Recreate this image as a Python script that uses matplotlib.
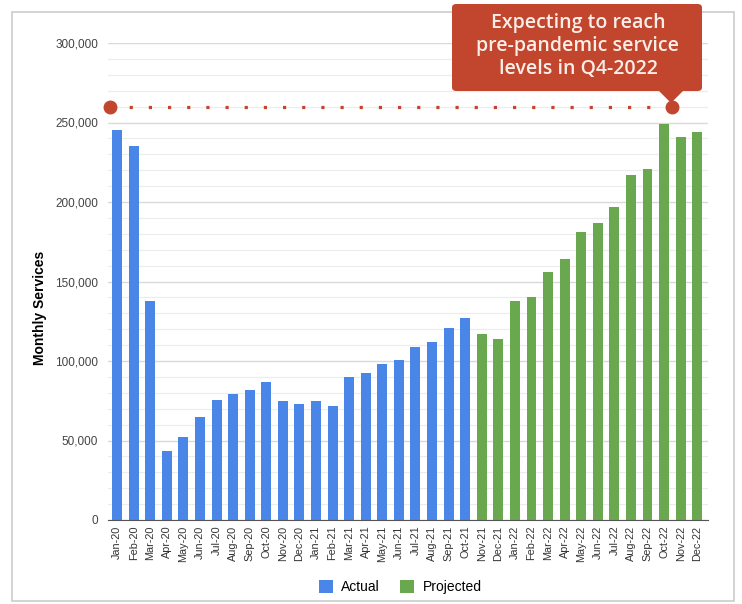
import numpy as np
import matplotlib.pyplot as plt
from matplotlib.patches import FancyBboxPatch, Polygon, Rectangle

plt.rcParams['font.family'] = ['Liberation Sans', 'DejaVu Sans']

# miesiace i wartosci
months = ['Jan-20', 'Feb-20', 'Mar-20', 'Apr-20', 'May-20', 'Jun-20', 'Jul-20', 'Aug-20',
          'Sep-20', 'Oct-20', 'Nov-20', 'Dec-20', 'Jan-21', 'Feb-21', 'Mar-21', 'Apr-21',
          'May-21', 'Jun-21', 'Jul-21', 'Aug-21', 'Sep-21', 'Oct-21', 'Nov-21', 'Dec-21',
          'Jan-22', 'Feb-22', 'Mar-22', 'Apr-22', 'May-22', 'Jun-22', 'Jul-22', 'Aug-22',
          'Sep-22', 'Oct-22', 'Nov-22', 'Dec-22']
actual = [245000, 235000, 137500, 43500, 52000, 65000, 75500, 79000, 82000, 87000,
          75000, 73000, 75000, 71500, 90000, 92500, 98000, 100500, 109000, 112000,
          121000, 127000]
projected = [117000, 114000, 138000, 140000, 156000, 164000, 181000, 187000, 197000,
             217000, 221000, 249000, 241000, 244000]
target = 260000
target_from = 'Jan-20'
target_to = 'Oct-22'
note = 'Expecting to reach\npre-pandemic service\nlevels in Q4-2022'

blue = '#4a86e8'
green = '#6aa84f'
red = '#c1462d'

fig = plt.figure(figsize=(7.42, 6.04), dpi=100)
W, H = 742, 604

def fx(px):
    return px / W

def fy(py):
    return 1 - py / H

# ramka wokol wykresu
fig.patches.append(Rectangle((fx(12), fy(601)), fx(722), 589 / H, transform=fig.transFigure,
                             fill=False, edgecolor='#cccccc', linewidth=1.2))

ax = fig.add_axes([fx(108), fy(520), fx(600), 477 / H])
x = np.arange(len(months))
n_act = len(actual)
ax.bar(x[:n_act], actual, width=0.6, color=blue, label='Actual', zorder=3)
ax.bar(x[n_act:], projected, width=0.6, color=green, label='Projected', zorder=3)

ax.set_ylim(0, 300000)
ax.set_xlim(-0.55, len(months) - 0.35)
ax.set_yticks(np.arange(0, 300001, 50000))
ax.set_yticks(np.arange(0, 300001, 10000), minor=True)
ax.yaxis.set_major_formatter(plt.FuncFormatter(lambda v, p: f'{int(v):,}'))
ax.grid(axis='y', which='major', color='#d9d9d9', linewidth=1.0, zorder=0)
ax.grid(axis='y', which='minor', color='#ececec', linewidth=0.8, zorder=0)
ax.tick_params(axis='y', which='both', length=0, labelsize=8.5, labelcolor='#444444', pad=7)
ax.set_xticks(x)
ax.set_xticklabels(months, rotation=90, fontsize=7.8, color='#333333')
ax.tick_params(axis='x', length=0, pad=4)
for s in ['top', 'right', 'left']:
    ax.spines[s].set_visible(False)
ax.spines['bottom'].set_color('#555555')
ax.spines['bottom'].set_zorder(4)

# linia docelowa
i0 = months.index(target_from) - 0.4
i1 = months.index(target_to) + 0.5
ax.plot([i0, i1], [target, target], linestyle=(0, (1, 5)), color=red, linewidth=2.3,
        zorder=4, clip_on=False)
ax.plot([i0, i1], [target, target], 'o', color=red, markersize=9, zorder=5, clip_on=False)

fig.text(fx(40), fy(308), 'Monthly Services', rotation=90, fontsize=10, fontweight='bold',
         ha='center', va='center')

ax.legend(loc='upper center', bbox_to_anchor=(0.487, -0.1), ncol=2, frameon=False,
          fontsize=10, handlelength=1.0, handleheight=1.0, columnspacing=1.5,
          handletextpad=0.6)

# dymek z opisem
fig.patches.append(FancyBboxPatch((fx(452), fy(91)), fx(250), 87 / H,
                                  boxstyle='round,pad=0,rounding_size=0.006',
                                  transform=fig.transFigure, facecolor=red,
                                  edgecolor='none', zorder=10))
fig.patches.append(Polygon([(fx(658), fy(90)), (fx(684), fy(90)), (fx(671), fy(103))],
                           closed=True, transform=fig.transFigure, facecolor=red,
                           edgecolor='none', zorder=10))
fig.text(fx(578), fy(46), note, color='#fbeee9', fontsize=14, fontweight='semibold',
         ha='center', va='center', linespacing=1.2, family='Open Sans', zorder=11)

fig.savefig('out.png', dpi=100)
